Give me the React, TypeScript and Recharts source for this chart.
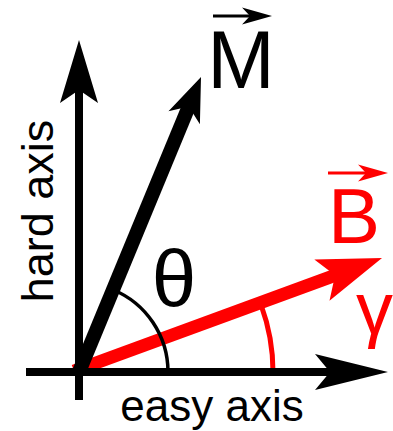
import { ComposedChart, Line, Scatter, XAxis, YAxis, Customized } from 'recharts';

const W = 393;
const H = 431;

// diagram units: origin where the two axes cross, y pointing up
const easyAxis = [{ x: -53, y: 0 }, { x: 309, y: 0 }];
const hardAxis = [{ x: 0, y: -28 }, { x: 0, y: 332 }];
const magnetization = [{ x: 0, y: 0 }, { x: 122, y: 295 }];
const field = [{ x: -5, y: 1 }, { x: 303, y: 114 }];

const xDomain = [-79, 314];
const yDomain = [-59, 372];
const PX = W / (xDomain[1] - xDomain[0]); // pixels per diagram unit

const angleOf = (v: { x: number; y: number }[]) =>
    (Math.atan2(v[v.length - 1].y - v[0].y, v[v.length - 1].x - v[0].x) * 180) / Math.PI;
const lengthOf = (v: { x: number; y: number }[]) =>
    Math.hypot(v[v.length - 1].x - v[0].x, v[v.length - 1].y - v[0].y) * PX;

// angle arcs: theta up to M, gamma up to B
const thetaArc = [{ x: 0, y: 0, radius: 89, from: 0, to: angleOf(magnetization) }];
const gammaArc = [{ x: 0, y: 0, radius: 194, from: 0, to: angleOf(field) }];

const RED = '#ff0000';
const FONT = '"Liberation Sans", Arial, sans-serif';

type Head = { len: number; half: number; notch: number };
const hardHead: Head = { len: 63, half: 19, notch: 50 };
const easyHead: Head = { len: 73, half: 18, notch: 58 };
const mHead: Head = { len: 44, half: 17, notch: 32 };
const bHead: Head = { len: 64, half: 22, notch: 50 };

// shaft stops at the notch of the arrow head so it doesn't poke out of the tip
const shaftDash = (data: { x: number; y: number }[], head: Head) =>
    `${lengthOf(data) - head.notch + 2} 2000`;

const headDot = (data: { x: number; y: number }[], head: Head, color: string) => (props: any) => {
    const { cx, cy, index } = props;
    if (index !== data.length - 1) return <g key={`d${index}`} />;
    const deg = -angleOf(data);
    return (
        <path
            key="head"
            d={`M0,0 L${-head.len},${-head.half} L${-head.notch},0 L${-head.len},${head.half} Z`}
            transform={`translate(${cx},${cy}) rotate(${deg})`}
            fill={color}
        />
    );
};

const arcShape = (color: string, width: number) => (props: any) => {
    const { cx, cy, payload } = props;
    const r = payload.radius * PX;
    const a0 = (payload.from * Math.PI) / 180;
    const a1 = (payload.to * Math.PI) / 180;
    const d = `M${cx + r * Math.cos(a0)},${cy - r * Math.sin(a0)} A${r},${r} 0 0 0 ${cx + r * Math.cos(a1)},${cy - r * Math.sin(a1)}`;
    return <path d={d} fill="none" stroke={color} strokeWidth={width} />;
};

// small vector arrow drawn over the M and B letters
const VecArrow = ({ x1, x2, y, color }: { x1: number; x2: number; y: number; color: string }) => (
    <g>
        <line x1={x1} y1={y} x2={x2 - 20} y2={y} stroke={color} strokeWidth={3} />
        <path d={`M${x2},${y} L${x2 - 30},${y - 8.5} L${x2 - 22},${y} L${x2 - 30},${y + 8.5} Z`} fill={color} />
    </g>
);

const Labels = () => (
    <g fontFamily={FONT}>
        <text x={241} y={88} fontSize={81} textAnchor="middle" fill="#000">M</text>
        <VecArrow x1={213} x2={272} y={16} color="#000" />
        <text x={354} y={243} fontSize={78} textAnchor="middle" fill={RED}>B</text>
        <VecArrow x1={328} x2={388} y={173} color={RED} />
        <text x={174} y={306} fontSize={80} textAnchor="middle" fill="#000">θ</text>
        <text x={356} y={334} fontSize={74} fill={RED}>γ</text>
        <text x={212} y={421} fontSize={44} textAnchor="middle" fill="#000">easy axis</text>
        <text x={53} y={211} fontSize={45} textAnchor="middle" fill="#000" transform="rotate(-90 53 211)">
            hard axis
        </text>
    </g>
);

export default function App() {
    return (
        <div style={{ position: 'absolute', left: 0, top: 0, width: W, height: H, background: '#fff' }}>
            <ComposedChart width={W} height={H} margin={{ top: 0, right: 0, bottom: 0, left: 0 }}>
                <XAxis type="number" dataKey="x" domain={xDomain} allowDataOverflow hide />
                <YAxis type="number" dataKey="y" domain={yDomain} allowDataOverflow hide />

                {/* field B, under the theta arc */}
                <Line
                    data={field}
                    dataKey="y"
                    stroke={RED}
                    strokeWidth={13}
                    strokeDasharray={shaftDash(field, bHead)}
                    dot={headDot(field, bHead, RED)}
                    activeDot={false}
                    isAnimationActive={false}
                />

                <Scatter data={gammaArc} shape={arcShape(RED, 5)} isAnimationActive={false} />
                <Scatter data={thetaArc} shape={arcShape('#000', 3.5)} isAnimationActive={false} />

                <Line
                    data={easyAxis}
                    dataKey="y"
                    stroke="#000"
                    strokeWidth={8}
                    strokeDasharray={shaftDash(easyAxis, easyHead)}
                    dot={headDot(easyAxis, easyHead, '#000')}
                    activeDot={false}
                    isAnimationActive={false}
                    zIndex={700}
                />
                <Line
                    data={hardAxis}
                    dataKey="y"
                    stroke="#000"
                    strokeWidth={8}
                    strokeDasharray={shaftDash(hardAxis, hardHead)}
                    dot={headDot(hardAxis, hardHead, '#000')}
                    activeDot={false}
                    isAnimationActive={false}
                    zIndex={700}
                />
                <Line
                    data={magnetization}
                    dataKey="y"
                    stroke="#000"
                    strokeWidth={14}
                    strokeDasharray={shaftDash(magnetization, mHead)}
                    dot={headDot(magnetization, mHead, '#000')}
                    activeDot={false}
                    isAnimationActive={false}
                    zIndex={700}
                />

                <Customized component={Labels} />
            </ComposedChart>
        </div>
    );
}
